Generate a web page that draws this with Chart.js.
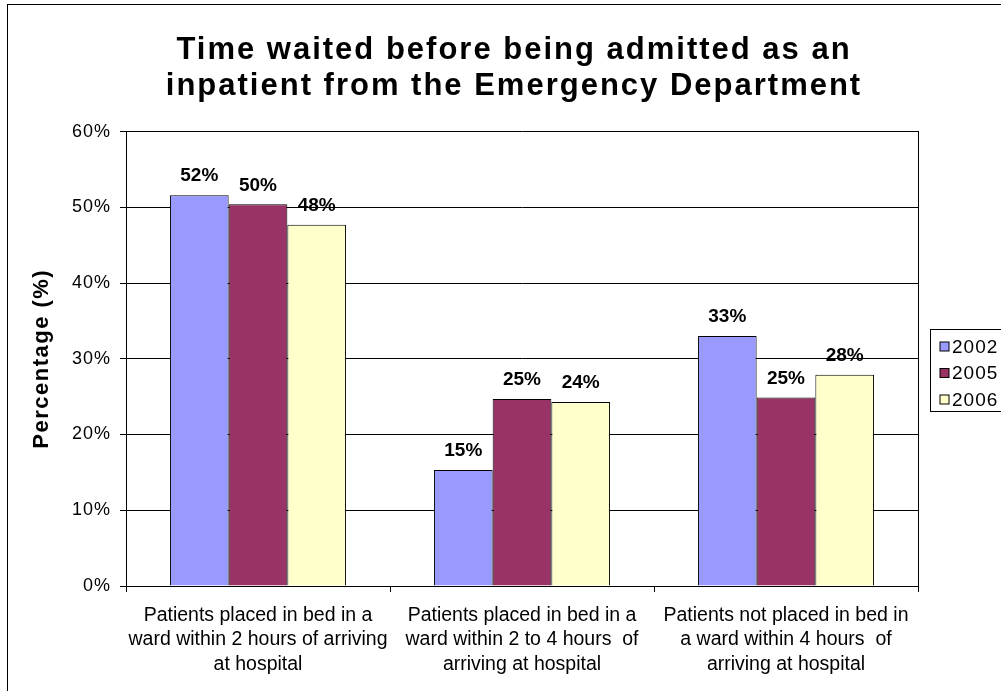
<!DOCTYPE html>
<html>
<head>
<meta charset="utf-8">
<script src="https://cdn.jsdelivr.net/npm/chart.js@4/dist/chart.umd.min.js"></script>
<style>
  html, body { margin: 0; padding: 0; background: #fff; overflow: hidden; }
  #frame { position: absolute; left: 7px; top: 4px; width: 1100px; height: 800px;
           border-left: 1px solid #000; border-top: 1px solid #000; }
  #chart { position: absolute; left: 0; top: 0; }
</style>
</head>
<body>
<div id="frame"></div>
<canvas id="chart" width="1028" height="691"></canvas>
<script>
// ---- data ----
const categories = [
  ["Patients placed in bed in a", "ward within 2 hours of arriving", "at hospital"],
  ["Patients placed in bed in a", "ward within 2 to 4 hours  of", "arriving at hospital"],
  ["Patients not placed in bed in", "a ward within 4 hours  of", "arriving at hospital"],
];
const years = ["2002", "2005", "2006"];
const values2002 = [51.6, 15.3, 33.0];
const values2005 = [50.4, 24.7, 24.9];
const values2006 = [47.7, 24.3, 27.9];
const yTickLabels = ["0%", "10%", "20%", "30%", "40%", "50%", "60%"];
const titleLines = ["Time waited before being admitted as an", "inpatient from the Emergency Department"];

const FONT = "'Liberation Sans', Arial, sans-serif";

// wrap a draw method so its text is drawn with extra letter spacing
function spaced(chart, obj, method, spacing) {
  if (!obj || obj["_sp_" + method]) return;
  const orig = obj[method];
  obj[method] = function (...args) {
    chart.ctx.save();
    chart.ctx.letterSpacing = spacing;
    orig.apply(this, args);
    chart.ctx.restore();
  };
  obj["_sp_" + method] = true;
}

const spacingPlugin = {
  id: "spacing",
  afterLayout(chart) {
    spaced(chart, chart.titleBlock, "draw", "2px");
    spaced(chart, chart.scales.y, "drawLabels", "1px");
    spaced(chart, chart.scales.y, "drawTitle", "1.5px");
  },
};

// value labels above each bar
const valueLabels = {
  id: "valueLabels",
  afterDatasetsDraw(chart) {
    const ctx = chart.ctx;
    ctx.save();
    ctx.font = "bold 19px " + FONT;
    ctx.fillStyle = "#000";
    ctx.textAlign = "center";
    ctx.textBaseline = "middle";
    chart.data.datasets.forEach((ds, i) => {
      chart.getDatasetMeta(i).data.forEach((bar, j) => {
        ctx.fillText(Math.round(ds.data[j]) + "%", bar.x, bar.y - 19);
      });
    });
    ctx.restore();
  },
};

// Excel-style boxed legend to the right of the plot
const boxLegend = {
  id: "boxLegend",
  afterDraw(chart) {
    const ctx = chart.ctx;
    const left = chart.chartArea.right + 12.5;
    const top = 329.5;
    const rowH = 26.5;
    ctx.save();
    ctx.strokeStyle = "#000";
    ctx.lineWidth = 1;
    ctx.strokeRect(left, top, 95, 82);
    ctx.font = "19px " + FONT;
    ctx.letterSpacing = "1px";
    ctx.textBaseline = "middle";
    chart.data.datasets.forEach((ds, i) => {
      const cy = top + 17 + i * rowH;
      ctx.fillStyle = ds.backgroundColor;
      ctx.fillRect(left + 9.5, cy - 4.5, 9, 9);
      ctx.strokeRect(left + 9.5, cy - 4.5, 9, 9);
      ctx.fillStyle = "#000";
      ctx.fillText(ds.label, left + 21.5, cy + 1);
    });
    ctx.restore();
  },
};

new Chart(document.getElementById("chart"), {
  type: "bar",
  data: {
    labels: categories,
    datasets: [
      { label: years[0], data: values2002, backgroundColor: "#9999ff" },
      { label: years[1], data: values2005, backgroundColor: "#993366" },
      { label: years[2], data: values2006, backgroundColor: "#ffffcc" },
    ],
  },
  options: {
    responsive: false,
    animation: false,
    layout: { padding: 0 },
    datasets: {
      bar: { borderColor: "#000", borderWidth: 1, categoryPercentage: 0.667, barPercentage: 1 },
    },
    plugins: {
      legend: { display: false },
      tooltip: { enabled: false },
      title: {
        display: true,
        text: titleLines,
        color: "#000",
        font: { family: FONT, size: 31, weight: "bold", lineHeight: 1.18 },
        padding: { top: 32, bottom: 26.4 },
      },
    },
    scales: {
      x: {
        grid: { drawOnChartArea: false, drawTicks: true, tickLength: 6, color: "#000" },
        border: { color: "#000" },
        ticks: {
          color: "#000",
          font: { family: FONT, size: 19.5, lineHeight: 1.256 },
          padding: 11,
          maxRotation: 0,
          autoSkip: false,
        },
        afterFit: (s) => { s.height = 105; },
      },
      y: {
        min: 0,
        max: 60,
        ticks: {
          stepSize: 10,
          color: "#000",
          font: { family: FONT, size: 18 },
          padding: 9,
          callback: (v, i) => yTickLabels[i],
        },
        grid: { color: "#000", tickLength: 6 },
        border: { color: "#000" },
        title: {
          display: true,
          text: "Percentage (%)",
          color: "#000",
          font: { family: FONT, size: 22, weight: "bold" },
          padding: { top: 28.5, bottom: 0 },
        },
        afterFit: (s) => { s.width = 126; },
      },
      y2: {
        position: "right",
        min: 0,
        max: 60,
        grid: { display: false },
        ticks: { display: false },
        border: { display: true, color: "#000" },
        afterFit: (s) => { s.width = 110; },
      },
    },
  },
  plugins: [spacingPlugin, valueLabels, boxLegend],
});
</script>
</body>
</html>
